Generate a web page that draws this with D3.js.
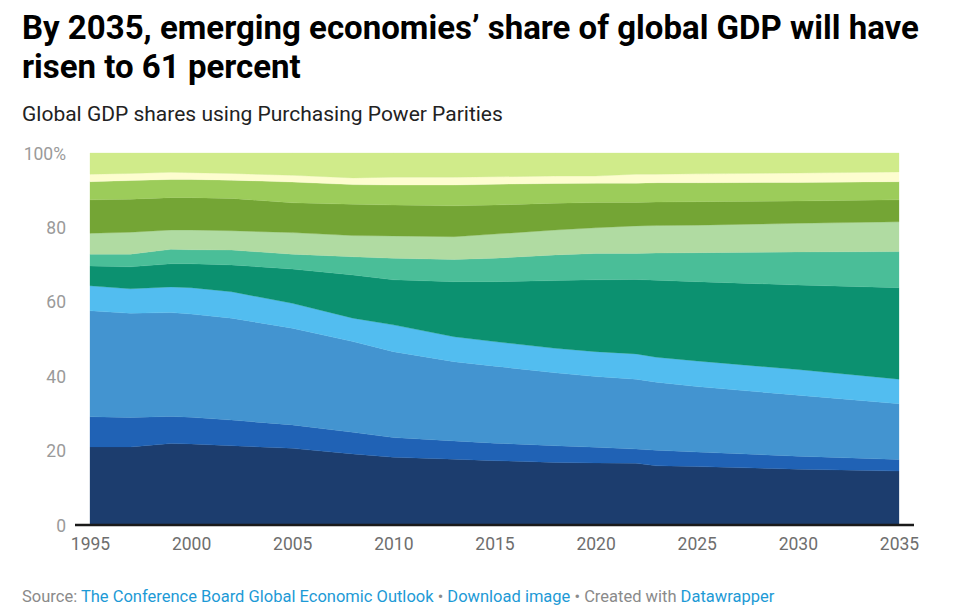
<!DOCTYPE html>
<html><head><meta charset="utf-8">
<script src="https://cdn.jsdelivr.net/npm/d3@7"></script>
<style>
body{margin:0;background:#fff;font-family:Roboto,"Noto Sans",sans-serif;}
</style></head>
<body><svg id="c" width="968" height="610"></svg>
<script>
const years = [1995,1997,1999,2000,2002,2005,2008,2010,2013,2015,2018,2020,2022,2023,2025,2030,2035];
const seriesNames = ["s1","s2","s3","s4","s5","s6","s7","s8","s9","s10","s11"];
const s1  = [21.0,21.0,21.9,21.8,21.3,20.6,19.1,18.2,17.7,17.3,16.8,16.7,16.6,15.9,15.7,15.0,14.5];
const s2  = [8.1,7.9,7.3,7.15,6.9,6.3,5.8,5.3,4.9,4.7,4.5,4.2,3.8,4.2,3.9,3.5,3.1];
const s3  = [28.5,28.0,27.9,27.75,27.4,26.0,24.4,23.1,21.3,20.7,19.6,19.0,18.8,18.3,17.6,16.4,15.0];
const s4  = [6.7,6.6,6.9,7.1,7.1,6.7,6.3,7.2,6.7,6.6,6.6,6.7,6.8,6.7,6.9,6.9,6.6];
const s5  = [5.3,5.9,6.2,6.4,7.2,9.2,11.6,12.1,14.8,16.1,18.2,19.3,20.0,20.7,21.3,22.7,24.6];
const s6  = [3.2,3.4,3.9,3.8,4.0,4.0,4.9,5.8,6.0,6.3,6.9,7.1,7.0,7.3,7.8,8.9,9.7];
const s7  = [5.6,5.9,5.2,5.3,5.2,5.8,5.7,6.0,6.1,6.5,6.7,6.9,7.4,7.4,7.4,7.7,8.0];
const s8  = [9.0,8.9,8.7,8.7,8.7,8.0,8.4,8.3,8.3,7.8,7.2,6.8,6.3,6.3,6.3,6.0,5.9];
const s9  = [4.9,5.0,4.9,4.9,4.9,5.6,5.3,5.4,5.6,5.6,5.3,5.2,5.2,5.2,5.1,5.0,4.9];
const s10 = [2.0,1.9,1.9,1.8,1.8,1.8,1.8,2.1,2.1,2.0,2.0,1.9,2.4,2.3,2.4,2.5,2.6];
const s11 = [5.7,5.5,5.2,5.3,5.5,6.0,6.7,6.5,6.5,6.4,6.2,6.2,5.7,5.7,5.6,5.4,5.1];
const yTicks = [0,20,40,60,80,100];
const xTicks = [1995,2000,2005,2010,2015,2020,2025,2030,2035];
const colors = ["#1c3d6e","#2062b5","#4394d0","#52bdf0","#0c9170","#4abe98","#b0dba2","#74a535","#9ccc5a","#fdfdcf","#d0eb8a"];

const allSeries = [s1,s2,s3,s4,s5,s6,s7,s8,s9,s10,s11];
const table = years.map((y,i)=>{const o={year:y}; seriesNames.forEach((n,k)=>o[n]=allSeries[k][i]); return o;});

const svg = d3.select("#c");
const x = d3.scaleLinear().domain([1995,2035]).range([90,899]);
const y = d3.scaleLinear().domain([0,100]).range([525,153]);

svg.append("text").attr("x",22).attr("y",39).attr("font-size",33).attr("font-weight",700).attr("fill","#000")
  .text("By 2035, emerging economies’ share of global GDP will have");
svg.append("text").attr("x",22).attr("y",77.5).attr("font-size",33).attr("font-weight",700).attr("fill","#000")
  .text("risen to 61 percent");
svg.append("text").attr("x",22).attr("y",120.5).attr("font-size",21).attr("fill","#222")
  .text("Global GDP shares using Purchasing Power Parities");

const stack = d3.stack().keys(seriesNames);
const layers = stack(table);
const area = d3.area().x(d=>x(d.data.year)).y0(d=>y(d[0])).y1(d=>y(d[1]));
svg.append("g").selectAll("path").data(layers).join("path")
  .attr("d",area).attr("fill",(d,i)=>colors[i])
  .attr("stroke",(d,i)=>colors[i]).attr("stroke-width",0.3);

// y axis labels
const ya = svg.append("g").attr("transform","translate(66,0)")
  .call(d3.axisLeft(y).tickValues(yTicks).tickSize(0).tickFormat(d=>d===100?"100%":d));
ya.select(".domain").remove();
ya.selectAll("text").attr("font-family","Roboto").attr("font-size",17.5).attr("fill","#9a9a9a").attr("dy","0.35em").attr("x",0);

// x axis
const xa = svg.append("g").attr("transform","translate(0,525)")
  .call(d3.axisBottom(x).tickValues(xTicks).tickSize(0).tickFormat(d3.format("d")));
xa.select(".domain").remove();
xa.selectAll("text").attr("font-family","Roboto").attr("font-size",17.5).attr("fill","#6e6e6e").attr("y",25).attr("dy","0");
svg.append("line").attr("x1",75).attr("x2",914).attr("y1",525).attr("y2",525).attr("stroke","#1a1a1a").attr("stroke-width",2.5);

// footer
const f = svg.append("text").attr("x",22).attr("y",602).attr("font-size",16.5).attr("fill","#8a8a8a");
f.append("tspan").text("Source: ");
f.append("tspan").attr("fill","#1d9ad6").text("The Conference Board Global Economic Outlook");
f.append("tspan").text(" • ");
f.append("tspan").attr("fill","#1d9ad6").text("Download image");
f.append("tspan").text(" • Created with ");
f.append("tspan").attr("fill","#1d9ad6").text("Datawrapper");
</script></body></html>
